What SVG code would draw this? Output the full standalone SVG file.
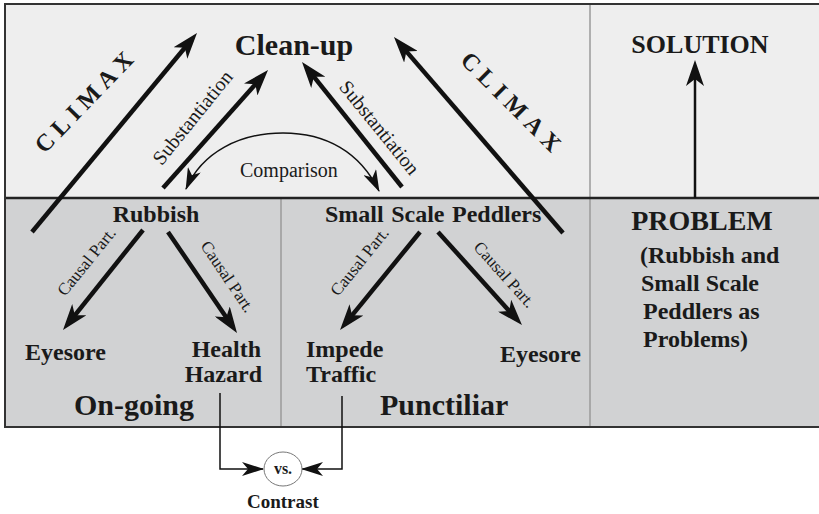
<svg xmlns="http://www.w3.org/2000/svg" width="819" height="514" viewBox="0 0 819 514">
<style>
text{font-family:"Liberation Serif","Times New Roman",serif;fill:#1a1a1a}
.b{font-weight:bold}
.thick{stroke:#111;stroke-width:4.5;fill:none;marker-end:url(#big)}
.thin{stroke:#111;stroke-width:1.5;fill:none}
</style>
<defs>
<marker id="big" markerUnits="userSpaceOnUse" viewBox="0 0 26 18" markerWidth="26" markerHeight="18" refX="18" refY="9" orient="auto">
<path d="M0,0 L26,9 L0,18 L7,9 Z" fill="#111"/>
</marker>
<marker id="mid" markerUnits="userSpaceOnUse" viewBox="0 0 22 14" markerWidth="22" markerHeight="14" refX="21" refY="7" orient="auto-start-reverse">
<path d="M0,0 L22,7 L0,14 L6,7 Z" fill="#111"/>
</marker>
</defs>
<g id="panels">
<rect x="5" y="4" width="816" height="194" fill="#eeeeee"/>
<rect x="5" y="198" width="816" height="229" fill="#d1d2d3"/>
<line x1="590" y1="4" x2="590" y2="427" stroke="#9a9a9a" stroke-width="1.5"/>
<line x1="281" y1="198" x2="281" y2="427" stroke="#9a9a9a" stroke-width="1.5"/>
<line x1="5" y1="198" x2="821" y2="198" stroke="#222" stroke-width="2.5"/>
<rect x="5" y="4" width="816" height="423" fill="none" stroke="#333" stroke-width="2"/>
</g>
<g id="connectors">
<line class="thick" x1="32" y1="232" x2="191.9" y2="39.2"/>
<line class="thick" x1="563" y1="233" x2="399.2" y2="43.1"/>
<line class="thick" x1="163" y1="188" x2="262.7" y2="76"/>
<line class="thick" x1="402" y1="187" x2="307" y2="68.2"/>
<line class="thick" x1="143" y1="230" x2="68" y2="323.8"/>
<line class="thick" x1="168" y1="232" x2="232.5" y2="326.4"/>
<line class="thick" x1="420" y1="232" x2="345.1" y2="323.8"/>
<line class="thick" x1="438" y1="232" x2="516.6" y2="319.1"/>
<line x1="695" y1="198" x2="695" y2="68" stroke="#111" stroke-width="2.5" marker-end="url(#big)"/>
<path class="thin" d="M186,189 C202,152 240,133 283,133 C326,133 360,152 379,191" marker-start="url(#mid)" marker-end="url(#mid)"/>
<polyline class="thin" points="220,393 220,469 263,469" marker-end="url(#mid)"/>
<polyline class="thin" points="342,396 342,469 302,469" marker-end="url(#mid)"/>
</g>
<g id="labels">
<text transform="translate(86,100) rotate(-46)" y="8" text-anchor="middle" class="b" font-size="24" letter-spacing="6">CLIMAX</text>
<text transform="translate(513,104) rotate(45)" y="8" text-anchor="middle" class="b" font-size="24" letter-spacing="6">CLIMAX</text>
<text transform="translate(193,118) rotate(-51)" y="6" text-anchor="middle" font-size="20">Substantiation</text>
<text transform="translate(379,128) rotate(51)" y="6" text-anchor="middle" font-size="20">Substantiation</text>
<text x="240" y="177" font-size="20">Comparison</text>
<text transform="translate(87,262) rotate(-51)" y="5" text-anchor="middle" font-size="17">Causal Part.</text>
<text transform="translate(227,277) rotate(56)" y="5" text-anchor="middle" font-size="17">Causal Part.</text>
<text transform="translate(360,262) rotate(-51)" y="5" text-anchor="middle" font-size="17">Causal Part.</text>
<text transform="translate(504,275) rotate(48)" y="5" text-anchor="middle" font-size="17">Causal Part.</text>
</g>
<g id="node-cleanup"><text x="294" y="55" text-anchor="middle" class="b" font-size="30">Clean-up</text></g>
<g id="node-solution"><text x="700" y="53" text-anchor="middle" class="b" font-size="26">SOLUTION</text></g>
<g id="node-problem">
<text x="702" y="230" text-anchor="middle" class="b" font-size="28">PROBLEM</text>
<text class="b" font-size="24"><tspan x="640" y="263">(Rubbish and</tspan><tspan x="641" y="291">Small Scale</tspan><tspan x="643" y="319">Peddlers as</tspan><tspan x="643" y="347">Problems)</tspan></text>
</g>
<g id="node-rubbish"><text x="156" y="222" text-anchor="middle" class="b" font-size="24">Rubbish</text></g>
<g id="node-peddlers"><text x="325" y="222" class="b" font-size="24" word-spacing="1.5">Small Scale Peddlers</text></g>
<g id="node-eyesore1"><text x="25" y="360" class="b" font-size="24">Eyesore</text></g>
<g id="node-health"><text class="b" font-size="24" text-anchor="end"><tspan x="261" y="357">Health</tspan><tspan x="262" y="382">Hazard</tspan></text></g>
<g id="node-impede"><text class="b" font-size="24"><tspan x="306" y="357">Impede</tspan><tspan x="306" y="382">Traffic</tspan></text></g>
<g id="node-eyesore2"><text x="500" y="362" class="b" font-size="24">Eyesore</text></g>
<g id="node-ongoing"><text x="74" y="415" class="b" font-size="30">On-going</text></g>
<g id="node-punctiliar"><text x="380" y="415" class="b" font-size="30">Punctiliar</text></g>
<g id="node-vs">
<ellipse cx="283" cy="469" rx="19" ry="17" fill="#ffffff" stroke="#777" stroke-width="1"/>
<text x="283" y="474" text-anchor="middle" class="b" font-size="16">vs.</text>
</g>
<g id="node-contrast"><text x="247" y="508" class="b" font-size="19">Contrast</text></g>
</svg>
